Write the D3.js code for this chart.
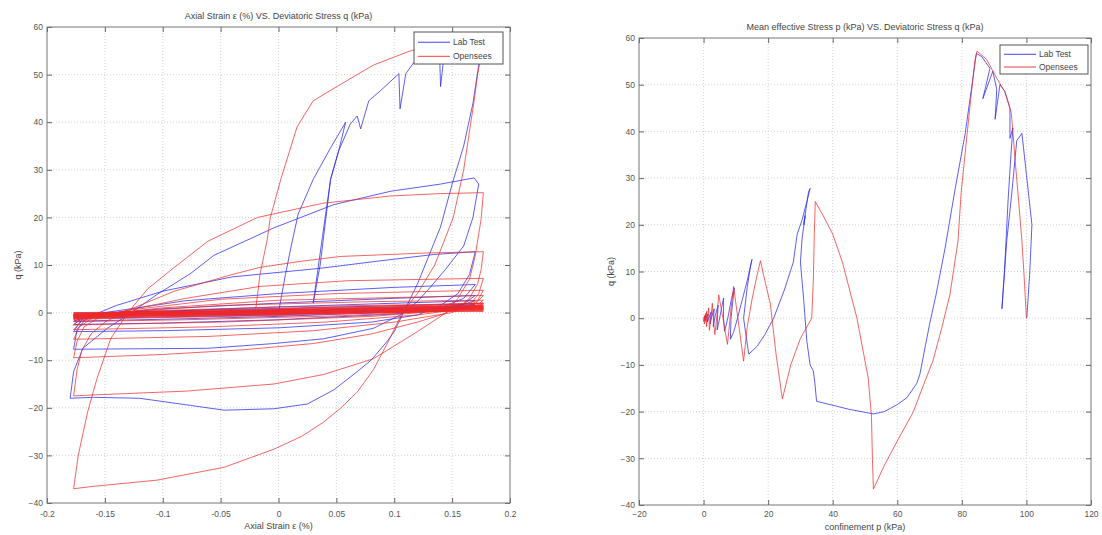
<!DOCTYPE html>
<html><head><meta charset="utf-8">
<script src="https://cdn.jsdelivr.net/npm/d3@7/dist/d3.min.js"></script>
<style>
html,body{margin:0;padding:0;background:#fff;}
svg{display:block;font-family:"Liberation Sans",Arial,sans-serif;}
</style></head><body>
<svg id="c" width="1102" height="535"></svg>
<script>
// ---------- DATA ----------
const qTicks = [-40,-30,-20,-10,0,10,20,30,40,50,60];
const leftXTicks = [-0.2,-0.15,-0.1,-0.05,0,0.05,0.1,0.15,0.2];
const leftXLabels = ["-0.2","-0.15","-0.1","-0.05","0","0.05","0.1","0.15","0.2"];
const rightXTicks = [-20,0,20,40,60,80,100,120];
const seriesNames = ["Lab Test","Opensees"];

// Left: axial strain (%) vs q (kPa)
const leftBlue = [
[0,0],[0.003,4],[0.006,8],[0.011,14],[0.017,20.7],[0.03,28],[0.045,34.6],[0.058,40],
[0.052,34],[0.045,28],[0.04,18],[0.036,10],[0.03,2],
[0.034,9],[0.038,16],[0.045,28],[0.052,34],[0.062,39.6],[0.068,41.3],[0.071,38.6],[0.078,44.5],[0.088,46.6],[0.104,50.2],[0.105,42.8],[0.11,50.2],[0.12,53.6],[0.13,55],[0.139,55.5],[0.14,47.5],[0.143,54],[0.15,56.5],[0.16,57],[0.17,55],[0.173,52],
[0.168,44],[0.16,35],[0.15,27],[0.14,18],[0.13,12],[0.12,6],[0.11,1],[0.1,-4],[0.094,-6],[0.08,-10],[0.068,-12.4],[0.048,-16.2],[0.025,-19.2],[-0.004,-20.2],[-0.047,-20.5],[-0.076,-19.5],[-0.12,-18],[-0.16,-17.8],[-0.18,-18],
[-0.177,-12.4],[-0.169,-7.5],[-0.148,-3.3],[-0.13,-0.5],[-0.105,3.8],[-0.076,8.2],[-0.056,12],[-0.004,17.8],[0.048,22.7],[0.097,25.5],[0.14,27],[0.169,28.3],[0.173,27],
[0.168,20],[0.16,14],[0.144,9],[0.13,5],[0.12,2.3],[0.105,-0.5],[0.082,-3.3],[0.039,-5.5],[-0.004,-6.5],[-0.061,-7.5],[-0.12,-7.6],[-0.177,-7.7],
[-0.174,-3.5],[-0.165,-1],[-0.14,1.5],[-0.1,4.5],[-0.04,7.5],[0.036,9.3],[0.082,10.7],[0.134,12.2],[0.17,12.8],
[0.165,8],[0.155,4],[0.14,1.5],[0.12,-0.5],[0.08,-2],[0,-3.2],[-0.1,-3.8],[-0.177,-4],
[-0.17,-1.5],[-0.15,0],[-0.08,2.5],[0,4],[0.1,5.3],[0.17,5.9],
[0.16,3],[0.14,1],[0.1,-0.3],[0,-1.5],[-0.1,-2.2],[-0.177,-2.5],
[-0.165,-0.5],[-0.1,0.8],[0,2],[0.1,3],[0.17,3.6],
[0.16,1.8],[0.12,0.3],[0,-0.8],[-0.1,-1.4],[-0.177,-1.8],
[-0.16,-0.3],[0,1.2],[0.17,2.5],
[0.15,1],[0,-0.5],[-0.177,-1.2],
[-0.15,0],[0,0.9],[0.17,1.8],[0.14,0.6],[0,-0.3],[-0.177,-0.8],
[0,0.6],[0.17,1.4],[0,-0.1],[-0.177,-0.5],[0,0.4],[0.17,1.1],
[0.05,0.2],[-0.05,-0.4],[-0.177,-0.3],[0,0.5],[0.17,0.9]
];
const leftRed = [
[-0.02,0],[-0.016,8],[-0.01,15],[-0.007,20],[0.002,28],[0.016,39],[0.03,44.5],[0.054,48],[0.082,52],[0.114,55],[0.14,56.3],[0.16,57],[0.177,57.3],
[0.175,54],[0.172,50],[0.169,44.5],[0.16,30],[0.151,20],[0.135,10],[0.12,4],[0.107,0],[0.095,-6],[0.082,-12],[0.068,-16.7],[0.054,-20],[0.039,-23],[0.02,-26],[-0.004,-28.7],[-0.047,-32.5],[-0.105,-35.2],[-0.16,-36.5],[-0.177,-37],
[-0.173,-30],[-0.165,-21],[-0.157,-14],[-0.145,-5.5],[-0.13,0],[-0.113,5],[-0.09,9.5],[-0.061,15],[-0.018,20],[0.039,23],[0.097,24.5],[0.14,25],[0.177,25.2],
[0.175,19.6],[0.17,12],[0.165,7],[0.155,3],[0.145,0],[0.12,-4],[0.1,-7],[0.082,-9.7],[0.039,-13],[-0.004,-15],[-0.08,-16.5],[-0.16,-17.3],[-0.177,-17.5],
[-0.174,-12],[-0.17,-8],[-0.162,-4.5],[-0.15,-2],[-0.13,0.5],[-0.09,4.5],[-0.04,8],[-0.016,9.5],[0.02,10.8],[0.054,11.8],[0.125,12.5],[0.177,12.8],
[0.175,9],[0.172,6],[0.165,3],[0.155,1],[0.14,-0.5],[0.12,-2],[0.08,-4.5],[0.03,-6.5],[-0.03,-7.8],[-0.1,-8.8],[-0.177,-9.5],
[-0.174,-6],[-0.168,-3],[-0.155,-1],[-0.13,0.5],[-0.08,3],[-0.016,5.5],[0.06,6.7],[0.177,7.2],
[0.173,4],[0.165,1.5],[0.15,0],[0.1,-2],[0.03,-3.8],[-0.06,-5],[-0.177,-5.6],
[-0.172,-3],[-0.16,-1],[-0.13,0.5],[-0.05,2.8],[0.05,4],[0.177,4.7],
[0.172,2.5],[0.16,0.8],[0.12,-0.5],[0.04,-2],[-0.06,-3],[-0.177,-3.6],
[-0.17,-1.8],[-0.15,-0.3],[-0.1,1],[0,2.6],[0.177,3.6],
[0.17,1.8],[0.15,0.5],[0.08,-0.8],[-0.05,-2],[-0.177,-2.6],
[-0.17,-1],[-0.14,0],[-0.05,1.5],[0.08,2.3],[0.177,2.6],
[0.17,1.2],[0.14,0.3],[0.05,-0.7],[-0.08,-1.5],[-0.177,-1.9],
[-0.165,-0.6],[-0.12,0.3],[0,1.2],[0.177,1.9],
[0.165,0.8],[0.12,0.1],[0,-0.6],[-0.177,-1.4],
[-0.16,-0.3],[-0.08,0.4],[0.05,1],[0.177,1.5],
[0.16,0.6],[0.08,0],[-0.05,-0.5],[-0.177,-1.1],
[-0.15,-0.2],[0,0.6],[0.177,1.2],
[0.15,0.4],[0,-0.3],[-0.177,-0.9],
[-0.14,0],[0,0.5],[0.177,1.0],[0.14,0.3],[0,-0.2],[-0.177,-0.7],
[-0.1,0],[0.05,0.5],[0.177,0.9],[0.1,0.2],[-0.05,-0.2],[-0.177,-0.6],
[0,0.3],[0.177,0.8],[0,0],[-0.177,-0.5],[0,0.2],[0.177,0.7],
[0,0.1],[-0.177,-0.4],[0,0.3],[0.177,1.3],[0,0.1],[-0.177,-1.0],[0,0.5],[0.177,1.6],
[0,0],[-0.177,-0.3],[0,0.6],[0.177,0.5],[0,-0.4],[-0.177,-1.3],[0,0.8],[0.177,2.0],
[0,0.2],[-0.177,0],[0,0.4],[0.177,0.3],[0,-0.1],[-0.177,-0.8],[0,0.3],[0.177,1.1]
];

// Right: mean effective stress p (kPa) vs q (kPa)
const rightBlue = [
[100.1,0],[101,9.4],[101.7,20],[100,30.8],[98.6,39.6],[97,38],[95.5,27],[93.9,16.5],[92.4,2],
[93.2,10],[94.3,25],[95.2,35],[95.8,40.7],[94.9,38.5],[94.9,45],[93.3,48.6],[91.8,50],[90.3,42.6],[90.8,49],[89.6,52.9],[86.5,47],[88.7,53.5],[86.2,56],[84.5,56.7],
[81,39.4],[78,28],[74.8,15],[72,5],[70,-1.3],[67,-12],[66,-14],[63,-17],[60,-18.5],[56,-20],[52.6,-20.5],[45,-19.5],[38,-18.3],[35,-17.8],
[34.5,-14],[34,-11.3],[33,-10],[32,-5],[31,4],[30,12],[30.5,17],[31.5,22],[31,20],[32.5,27],[33,27.8],
[32,25],[30.5,21],[29,18],[27.8,12],[25,6],[21.7,0],[19,-3.5],[16.6,-6],[14,-7.7],[13,-3],[12.4,0],[13.5,6.5],[14.5,11],[15,12.6],
[13.5,8],[12,4],[10.5,0],[9.3,-3],[8.3,-4.5],[8.5,0],[9.5,6.5],[8.6,4],[7.5,0],[6.5,-2.8],[6.2,0],[6.2,4.3],[5.4,1.5],[4.6,-1.3],[4.2,-2.5],[4.3,0],[4.5,2.8],[3.6,0.5],[3.0,-1.8],[3.1,0],[3.3,2],[2.5,0.3],[2.0,-1.2],[2.2,0.3],[2.4,1.4],[1.6,0],[1.2,-0.8],[1.4,0.9],[0.8,0],[0.6,-0.5],[0.7,0.6],[0.3,0]
];
const rightRed = [
[100,0],[99.2,10],[98.6,16.5],[97.6,25],[96.6,33],[95.8,40],[95.3,44],[93.3,48.5],[90.8,51.4],[87.7,55.4],[84.7,57.2],
[84,55],[82,42],[79.8,27],[78.8,16.5],[76.3,5],[73.8,-2],[71,-9.2],[68,-14.5],[65,-20],[60,-26.3],[56,-31.5],[52.6,-36.6],
[52.3,-30],[52,-21],[51,-12.8],[47.5,0],[43,12],[40,18],[37,22],[34.6,25],
[34.3,18],[34,8],[33.5,0],[30,-4.3],[27,-10],[24.4,-17.3],
[22.5,-8],[20.7,3],[19,8],[17.6,12.3],
[16.5,9],[15,4],[13.5,-2],[12.4,-9.2],
[11,-2],[9.3,6.8],[8.5,2],[7.4,-5.6],[6,0],[4.7,5],[4.2,1],[3.5,-3.5],[3.0,0],[2.7,3.2],[2.3,0],[1.8,-2.6],[1.7,0],[1.6,2.2],[1.2,0],[0.9,-1.8],[0.9,0],[1.0,1.5],[0.6,0],[0.3,-1.2],[0.5,0],[0.8,1.1],[0.4,0],[0.1,-0.8],[0.3,0.2],[0.6,0.8],[0.2,-0.2],[0,-0.5],[0.3,0.5],[0.1,0]
];

// ---------- DRAW ----------
const svg = d3.select("#c");
svg.append("rect").attr("width",1102).attr("height",535).attr("fill","#fff");
const BLUE = "#2b2bf0", RED = "#f02828";

function panel(cfg){
  const x = d3.scaleLinear().domain(cfg.xDomain).range([cfg.x0, cfg.x1]);
  const y = d3.scaleLinear().domain([-40,60]).range([cfg.y1, cfg.y0]);
  const g = svg.append("g");
  // grid
  g.selectAll(".gx").data(cfg.xTicks.slice(1,-1)).join("line")
    .attr("x1",d=>x(d)).attr("x2",d=>x(d)).attr("y1",cfg.y0).attr("y2",cfg.y1)
    .attr("stroke","#c8c8c8").attr("stroke-width",0.8).attr("stroke-dasharray","1,2");
  g.selectAll(".gy").data(qTicks.slice(1,-1)).join("line")
    .attr("y1",d=>y(d)).attr("y2",d=>y(d)).attr("x1",cfg.x0).attr("x2",cfg.x1)
    .attr("stroke","#c8c8c8").attr("stroke-width",0.8).attr("stroke-dasharray","1,2");

  // series
  const line = d3.line().x(d=>x(d[0])).y(d=>y(d[1]));
  g.append("path").datum(cfg.blue).attr("d",line).attr("fill","none")
    .attr("stroke",BLUE).attr("stroke-width",0.9).attr("stroke-opacity",0.85).attr("stroke-linejoin","round");
  g.append("path").datum(cfg.red).attr("d",line).attr("fill","none")
    .attr("stroke",RED).attr("stroke-width",0.9).attr("stroke-opacity",0.8).attr("stroke-linejoin","round");

  // axes (ticks inside, MATLAB style)
  const fmt = cfg.xLabels ? ((d,i)=>cfg.xLabels[i]) : d3.format("d");
  const styleAxis = sel => {
    sel.select(".domain").remove();
    sel.selectAll("line").attr("stroke","#666");
    sel.selectAll("text").attr("fill","#555").style("font-size","8.5px").style("font-family","'Liberation Sans',Arial,sans-serif");
  };
  g.append("g").attr("transform",`translate(0,${cfg.y1})`)
    .call(d3.axisBottom(x).tickValues(cfg.xTicks).tickSize(-5).tickPadding(cfg.xPad).tickFormat(fmt)).call(styleAxis);
  g.append("g").attr("transform",`translate(0,${cfg.y0})`)
    .call(d3.axisTop(x).tickValues(cfg.xTicks).tickSize(-5).tickFormat("")).call(styleAxis);
  g.append("g").attr("transform",`translate(${cfg.x0},0)`)
    .call(d3.axisLeft(y).tickValues(qTicks).tickSize(-5).tickPadding(4).tickFormat(d3.format("d"))).call(styleAxis);
  g.append("g").attr("transform",`translate(${cfg.x1},0)`)
    .call(d3.axisRight(y).tickValues(qTicks).tickSize(-5).tickFormat("")).call(styleAxis);

  // frame
  g.append("rect").attr("x",cfg.x0).attr("y",cfg.y0).attr("width",cfg.x1-cfg.x0).attr("height",cfg.y1-cfg.y0)
    .attr("fill","none").attr("stroke","#777").attr("stroke-width",1);

  // title & labels
  const cx = (cfg.x0+cfg.x1)/2;
  g.append("text").attr("x",cx).attr("y",cfg.titleY).attr("text-anchor","middle")
    .attr("fill","#444").style("font-size","9px").text(cfg.title);
  g.append("text").attr("x",cx).attr("y",cfg.xLabelY).attr("text-anchor","middle")
    .attr("fill","#444").style("font-size","9px").text(cfg.xLabel);
  g.append("text").attr("transform",`translate(${cfg.yLabelX},${(cfg.y0+cfg.y1)/2}) rotate(-90)`)
    .attr("text-anchor","middle").attr("fill","#444").style("font-size","9px").text("q (kPa)");

  // legend
  const L = cfg.legend;
  const lg = g.append("g");
  lg.append("rect").attr("x",L.x).attr("y",L.y).attr("width",L.w).attr("height",L.h)
    .attr("fill","#fff").attr("stroke","#555").attr("stroke-width",1);
  [BLUE,RED].forEach((c,i)=>{
    const yy = L.y + L.h*(0.32 + 0.44*i);
    lg.append("line").attr("x1",L.x+4).attr("x2",L.x+36).attr("y1",yy).attr("y2",yy)
      .attr("stroke",c).attr("stroke-width",0.9);
    lg.append("text").attr("x",L.x+39).attr("y",yy+3).attr("fill","#444")
      .style("font-size","8.5px").text(seriesNames[i]);
  });
}

panel({
  x0:47, x1:510, y0:27, y1:503, xDomain:[-0.2,0.2], xTicks:leftXTicks, xLabels:leftXLabels, xPad:8,
  blue:leftBlue, red:leftRed,
  title:"Axial Strain ε (%) VS. Deviatoric Stress q (kPa)", titleY:19,
  xLabel:"Axial Strain ε (%)", xLabelY:529, yLabelX:21,
  legend:{x:414,y:32,w:89,h:32}
});
panel({
  x0:639, x1:1091, y0:38, y1:505, xDomain:[-20,120], xTicks:rightXTicks, xLabels:null, xPad:6,
  blue:rightBlue, red:rightRed,
  title:"Mean effective Stress p (kPa) VS. Deviatoric Stress q (kPa)", titleY:30,
  xLabel:"confinement p (kPa)", xLabelY:530, yLabelX:614,
  legend:{x:1000,y:45,w:88,h:29}
});
</script>
</body></html>
